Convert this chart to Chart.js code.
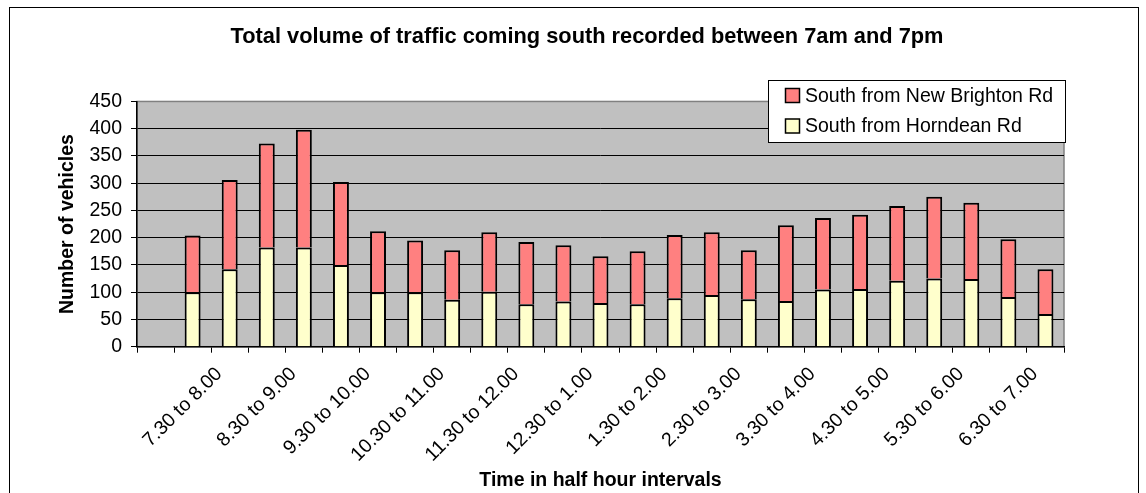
<!DOCTYPE html>
<html><head><meta charset="utf-8">
<script src="https://cdn.jsdelivr.net/npm/chart.js@4/dist/chart.umd.min.js"></script>
<style>html,body{margin:0;padding:0;background:#fff;overflow:hidden}</style>
</head><body>
<canvas id="c" width="1146" height="493" style="width:1146px;height:493px"></canvas>
<script>
const chartTitle = 'Total volume of traffic coming south recorded between 7am and 7pm';
const xAxisTitle = 'Time in half hour intervals';
const yAxisTitle = 'Number of vehicles';
const categories = ['', '7.00 to 7.30', '7.30 to 8.00', '8.00 to 8.30', '8.30 to 9.00', '9.00 to 9.30', '9.30 to 10.00',
  '10.00 to 10.30', '10.30 to 11.00', '11.00 to 11.30', '11.30 to 12.00', '12.00 to 12.30', '12.30 to 1.00',
  '1.00 to 1.30', '1.30 to 2.00', '2.00 to 2.30', '2.30 to 3.00', '3.00 to 3.30', '3.30 to 4.00',
  '4.00 to 4.30', '4.30 to 5.00', '5.00 to 5.30', '5.30 to 6.00', '6.00 to 6.30', '6.30 to 7.00'];
const horndeanLabel = 'South from Horndean Rd';
const horndean = [null, 100, 142, 182, 182, 150, 100, 100, 86, 101, 78, 83, 80, 78, 89, 95, 87, 84, 105, 106, 121, 125, 124, 91, 60];
const newBrightonLabel = 'South from New Brighton Rd';
const newBrighton = [null, 104, 164, 191, 216, 152, 112, 95, 91, 109, 114, 103, 86, 97, 116, 115, 90, 139, 131, 136, 137, 150, 140, 106, 82];
const yMin = 0, yMax = 450, yStep = 50;

const FONT = "'Liberation Sans', Arial, sans-serif";

const frame = {
  id: 'frame',
  beforeDraw(chart) {
    const ctx = chart.ctx, a = chart.chartArea;
    ctx.save();
    ctx.fillStyle = '#fff';
    ctx.fillRect(0, 0, chart.width, chart.height);
    ctx.strokeStyle = '#000';
    ctx.lineWidth = 1;
    ctx.strokeRect(9.5, 7.5, 1129, 520);
    ctx.fillStyle = '#C0C0C0';
    ctx.fillRect(a.left, a.top, a.right - a.left, a.bottom - a.top);
    ctx.strokeStyle = '#808080';
    ctx.lineWidth = 1.5;
    ctx.strokeRect(a.left, a.top, a.right - a.left, a.bottom - a.top);
    ctx.restore();
  }
};

const boxLegend = {
  id: 'boxLegend',
  afterDraw(chart) {
    const ctx = chart.ctx;
    const items = chart.data.datasets.slice().reverse();
    ctx.save();
    ctx.fillStyle = '#fff';
    ctx.fillRect(768, 80, 297, 62);
    ctx.strokeStyle = '#000';
    ctx.lineWidth = 1;
    ctx.strokeRect(768.5, 80.5, 297, 62);
    items.forEach((d, i) => {
      const cy = 95.5 + i * 30.5;
      ctx.fillStyle = d.backgroundColor;
      ctx.fillRect(785, cy - 7.5, 15, 15);
      ctx.strokeStyle = '#000';
      ctx.lineWidth = 1.5;
      ctx.strokeRect(785.5, cy - 7, 14, 14);
      ctx.fillStyle = '#000';
      ctx.font = '19.5px ' + FONT;
      ctx.textAlign = 'left';
      ctx.textBaseline = 'middle';
      ctx.fillText(d.label, 805, cy + 1);
    });
    ctx.restore();
  }
};

new Chart(document.getElementById('c'), {
  type: 'bar',
  data: {
    labels: categories,
    datasets: [
      { label: horndeanLabel, data: horndean, backgroundColor: '#FFFFCC', borderColor: '#000', borderWidth: 2,
        barPercentage: 0.43, categoryPercentage: 1 },
      { label: newBrightonLabel, data: newBrighton, backgroundColor: '#FF8080', borderColor: '#000', borderWidth: 2,
        barPercentage: 0.43, categoryPercentage: 1 }
    ]
  },
  options: {
    responsive: false,
    animation: false,
    devicePixelRatio: 1,
    layout: { padding: { left: 28, right: 0, top: 0, bottom: 0 } },
    plugins: {
      legend: { display: false },
      tooltip: { enabled: false },
      title: {
        display: true, text: chartTitle, color: '#000',
        font: { family: FONT, size: 21.8, weight: 'bold' },
        padding: { top: 24, bottom: 51.3 }
      }
    },
    scales: {
      x: {
        stacked: true,
        offset: true,
        grid: { offset: true, drawOnChartArea: false, drawTicks: true, tickLength: 6, tickColor: '#000', color: '#000' },
        border: { color: '#000', width: 1.5 },
        ticks: {
          autoSkip: false, minRotation: 45, maxRotation: 45, padding: 10, labelOffset: -10.5,
          color: '#000', font: { family: FONT, size: 19.5 },
          callback: (v, i) => (i % 2 === 0 ? categories[i] : '')
        },
        title: { display: true, text: xAxisTitle, color: '#000', font: { family: FONT, size: 19.5, weight: 'bold' },
          padding: { top: 0, bottom: 1 } },
        afterFit(s) { s.height = 146.3; }
      },
      y: {
        stacked: true,
        min: yMin, max: yMax,
        grid: {
          color: (c) => (c.tick && c.tick.value === yMax ? '#808080' : '#000'),
          tickColor: '#000', tickLength: 6, lineWidth: 1
        },
        border: { color: '#000', width: 1.5 },
        ticks: { stepSize: yStep, padding: 9, color: '#000', font: { family: FONT, size: 19.5 } },
        title: { display: true, text: yAxisTitle, color: '#000', font: { family: FONT, size: 19.5, weight: 'bold' },
          padding: { top: 28, bottom: 0 } },
        afterFit(s) { s.width = 109; }
      },
      yR: {
        type: 'linear', position: 'right', display: true,
        grid: { display: false }, border: { display: false }, ticks: { display: false },
        afterFit(s) { s.width = 82; }
      }
    }
  },
  plugins: [frame, boxLegend]
});
</script>
</body></html>
